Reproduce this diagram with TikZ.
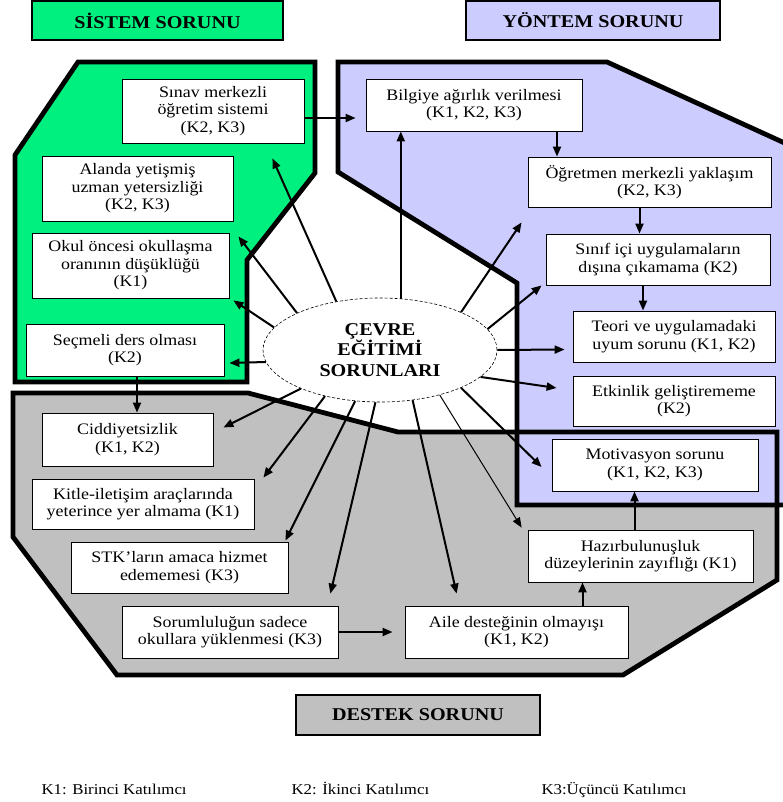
\documentclass[tikz,border=0pt]{standalone}
\usepackage{fontspec}
\setmainfont[FakeStretch=1.12]{Liberation Serif}
\usetikzlibrary{shapes.geometric, arrows.meta}
\definecolor{sistemc}{RGB}{0,240,128}
\definecolor{yontemc}{RGB}{204,204,255}
\definecolor{destekc}{RGB}{192,192,192}
\tikzstyle{block}=[draw,fill=white,rectangle,line width=0.8pt,align=center,inner sep=2pt,font=\fontsize{16}{17.5}\selectfont]
\tikzstyle{title}=[draw,rectangle,line width=1.2pt,font=\fontsize{18}{20}\selectfont\bfseries]
\tikzstyle{frame}=[line width=4.8pt,line join=miter]
\tikzstyle{spoke}=[->,line width=2pt]
\tikzstyle{legend}=[anchor=base west,font=\fontsize{15}{17}\selectfont]

\begin{document}
\begin{tikzpicture}[x=1pt,y=-1pt,>={Triangle[length=10pt,width=8pt]}]
    \clip (0,0) rectangle (783,802);
    % regions
    \fill[destekc] (13,393) -- (248,393) -- (398,432) -- (777,432) -- (777,580) -- (623,675) -- (117,675) -- (13,537) -- cycle;
    \fill[yontemc] (338,62) -- (607,62) -- (800,150) -- (800,505) -- (517,505) -- (517,283) -- (338,172) -- cycle;
    \fill[sistemc] (78,62) -- (315,62) -- (315,173) -- (247,260) -- (247,382) -- (15,382) -- (15,155) -- cycle;
    \draw[frame] (13,393) -- (248,393) -- (398,432) -- (777,432) -- (777,580) -- (623,675) -- (117,675) -- (13,537) -- cycle;
    \draw[frame] (338,62) -- (607,62) -- (800,150) -- (800,505) -- (517,505) -- (517,283) -- (338,172) -- cycle;
    \draw[frame] (78,62) -- (315,62) -- (315,173) -- (247,260) -- (247,382) -- (15,382) -- (15,155) -- cycle;
    % titles
    \node[title, fill=sistemc, minimum width=251, minimum height=39] (sistem) at (157.5,20.5) {SİSTEM SORUNU};
    \node[title, fill=yontemc, minimum width=254, minimum height=39] (yontem) at (593,20.5) {YÖNTEM SORUNU};
    \node[title, fill=destekc, minimum width=244, minimum height=40] (destek) at (418,715) {DESTEK SORUNU};
    % center
    \node[ellipse, draw, densely dashed, line width=0.6pt, fill=white, minimum width=234, minimum height=104, inner sep=0pt, align=center, font=\fontsize{18}{20.5}\selectfont\bfseries] (cevre) at (380,350) {ÇEVRE\\EĞİTİMİ\\SORUNLARI};
    % sistem
    \node[block, minimum width=182, minimum height=64] (sinav) at (213,111) {Sınav merkezli\\öğretim sistemi\\(K2, K3)};
    \node[block, minimum width=191, minimum height=65] (alanda) at (137.5,188.5) {Alanda yetişmiş\\uzman yetersizliği\\(K2, K3)};
    \node[block, minimum width=197, minimum height=65] (okul) at (130.5,265.5) {Okul öncesi okullaşma\\oranının düşüklüğü\\(K1)};
    \node[block, minimum width=198, minimum height=52] (secmeli) at (125,350) {Seçmeli ders olması\\(K2)};
    % yontem
    \node[block, minimum width=216, minimum height=52] (bilgi) at (474,105) {Bilgiye ağırlık verilmesi\\(K1, K2, K3)};
    \node[block, minimum width=243, minimum height=50] (ogretmen) at (649.5,182) {Öğretmen merkezli yaklaşım\\(K2, K3)};
    \node[block, minimum width=224, minimum height=51] (sinif) at (658,259.5) {Sınıf içi uygulamaların\\dışına çıkamama (K2)};
    \node[block, minimum width=202, minimum height=51] (teori) at (674,336.5) {Teori ve uygulamadaki\\uyum sorunu (K1, K2)};
    \node[block, minimum width=202, minimum height=50] (etkinlik) at (674,401) {Etkinlik geliştirememe\\(K2)};
    \node[block, minimum width=206, minimum height=52] (motivasyon) at (655,465) {Motivasyon sorunu\\(K1, K2, K3)};
    % destek
    \node[block, minimum width=171, minimum height=53] (ciddiyet) at (127.5,439.5) {Ciddiyetsizlik\\(K1, K2)};
    \node[block, minimum width=222, minimum height=50] (kitle) at (143,504) {Kitle-iletişim araçlarında\\yeterince yer almama (K1)};
    \node[block, minimum width=217, minimum height=51] (stk) at (179.5,567.5) {STK'ların amaca hizmet\\edememesi (K3)};
    \node[block, minimum width=216, minimum height=52] (sorumluluk) at (230,632) {Sorumluluğun sadece\\okullara yüklenmesi (K3)};
    \node[block, minimum width=223, minimum height=52] (aile) at (516.5,632) {Aile desteğinin olmayışı\\(K1, K2)};
    \node[block, minimum width=225, minimum height=52] (hazir) at (640.5,556) {Hazırbulunuşluk\\düzeylerinin zayıflığı (K1)};
    % legend
    \node[legend] (k1) at (38,794) {K1: Birinci Katılımcı};
    \node[legend] (k2) at (288,794) {K2: İkinci Katılımcı};
    \node[legend] (k3) at (538,794) {K3:Üçüncü Katılımcı};
    % spokes from the center
    \coordinate (up) at (cevre.68);
    \draw[spoke] (cevre.132) -- ([shift={(-32,15)}]sinav.south east);
    \draw[spoke] (cevre.156) -- ([shift={(5,15)}]alanda.south east);
    \draw[spoke] (cevre.168) -- ([shift={(4,2)}]okul.south east);
    \draw[spoke] (cevre.186) -- ([shift={(5,13)}]secmeli.east);
    \draw[spoke] (up) -- (up |- bilgi.south);
    \draw[spoke] (cevre.25) -- ([shift={(-6,15)}]ogretmen.south west);
    \draw[spoke] (cevre.11) -- ([xshift=-4pt]sinif.south west);
    \draw[spoke] (cevre.0) -- ([shift={(-8,13)}]teori.west);
    \draw[spoke] (cevre.345) -- ([shift={(-16,-13)}]etkinlik.west);
    \draw[spoke] (cevre.335) -- ([shift={(-10,2)}]motivasyon.west);
    \draw[spoke, line width=1pt] (cevre.323) -- ([shift={(-6,-2)}]hazir.north west);
    \draw[spoke] (cevre.303) -- ([shift={(52,-12)}]aile.north west);
    \draw[spoke] (cevre.265) -- ([shift={(-8,-12)}]sorumluluk.north east);
    \draw[spoke] (cevre.244) -- ([shift={(-3,-1)}]stk.north east);
    \draw[spoke] (cevre.220) -- ([shift={(9,-1)}]kitle.north east);
    \draw[spoke] (cevre.206) -- ([shift={(10,-12)}]ciddiyet.east);
    % box to box
    \coordinate (b1) at ([xshift=83pt]bilgi.south);
    \coordinate (b2) at ([xshift=-10pt]ogretmen.south);
    \coordinate (b3) at ([xshift=-15pt]sinif.south);
    \coordinate (b4) at ([xshift=12pt]secmeli.south);
    \coordinate (b5) at ([xshift=66pt]aile.north);
    \coordinate (b6) at ([xshift=-6pt]hazir.north);
    \coordinate (b7) at ([yshift=-7pt]sinav.east);
    \draw[spoke, shorten >=10pt] (b7) -- (b7 -| bilgi.west);
    \draw[spoke] (b1) -- (b1 |- ogretmen.north);
    \draw[spoke] (b2) -- (b2 |- sinif.north);
    \draw[spoke] (b3) -- (b3 |- teori.north);
    \draw[spoke] (b4) -- (b4 |- ciddiyet.north);
    \draw[spoke, shorten >=12pt] (sorumluluk.east) -- (aile.west);
    \draw[spoke] (b5) -- (b5 |- hazir.south);
    \draw[spoke] (b6) -- (b6 |- motivasyon.south);
\end{tikzpicture}
\end{document}
